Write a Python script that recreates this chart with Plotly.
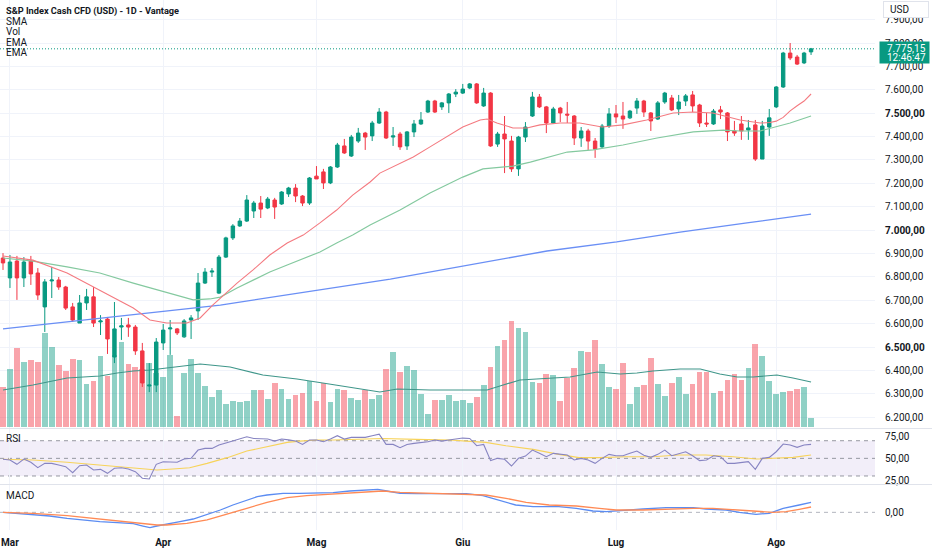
import plotly.graph_objects as go

# ---------------- data ----------------
month_idx = [1, 23, 45, 66, 88, 111]
month_labels = ["Mar", "Apr", "Mag", "Giu", "Lug", "Ago"]

opens = [6881,6796,6868,6796,6868,6817,6672,6783,6787,6757,
         6672,6603,6689,6715,6608,6620,6458,6586,6595,6586,
         6484,6334,6338,6518,6578,6578,6544,6616,6655,6774,
         6821,6731,6885,6967,7018,7039,7082,7116,7095,7129,
         7112,7155,7180,7146,7116,7231,7249,7202,7270,7360,
         7317,7381,7415,7403,7458,7505,7398,7411,7360,7420,
         7454,7505,7552,7527,7544,7582,7586,7608,7625,7531,
         7586,7368,7411,7381,7262,7398,7488,7569,7527,7458,
         7522,7496,7488,7394,7424,7381,7356,7445,7497,7488,
         7480,7522,7552,7501,7475,7548,7565,7518,7552,7578,
         7535,7458,7454,7514,7501,7424,7454,7428,7450,7304,
         7441,7527,7612,7757,7740,7715,7762]
highs = [6902,6894,6890,6885,6890,6838,6791,6843,6800,6762,
         6689,6723,6749,6757,6637,6629,6693,6625,6625,6595,
         6518,6432,6539,6599,6616,6582,6620,6637,6817,6838,
         6838,6894,6972,7026,7052,7150,7125,7146,7142,7138,
         7167,7185,7197,7150,7227,7274,7262,7274,7373,7390,
         7407,7437,7420,7467,7522,7510,7441,7420,7424,7471,
         7505,7557,7557,7548,7586,7603,7625,7629,7629,7608,
         7590,7420,7488,7403,7403,7462,7591,7582,7531,7527,
         7527,7548,7492,7441,7433,7394,7454,7522,7535,7548,
         7514,7565,7557,7505,7552,7591,7578,7578,7582,7595,
         7540,7501,7518,7531,7505,7467,7488,7471,7471,7467,
         7518,7616,7762,7800,7749,7762,7779]
lows = [6830,6753,6702,6757,6766,6702,6565,6710,6745,6659,
        6608,6603,6659,6586,6552,6471,6432,6531,6544,6467,
        6330,6308,6308,6488,6467,6552,6540,6535,6616,6770,
        6800,6727,6881,6958,7014,7035,7052,7052,7090,7048,
        7108,7142,7120,7103,7108,7219,7176,7197,7266,7326,
        7313,7373,7343,7381,7454,7390,7360,7343,7343,7398,
        7450,7501,7501,7514,7501,7569,7582,7603,7540,7527,
        7356,7356,7244,7249,7232,7377,7484,7522,7415,7454,
        7462,7458,7364,7356,7343,7309,7352,7437,7458,7433,
        7475,7497,7484,7424,7471,7540,7509,7492,7531,7505,
        7441,7441,7450,7475,7381,7403,7386,7386,7296,7304,
        7403,7522,7608,7727,7706,7710,7749]
closes = [6860,6864,6796,6864,6813,6723,6779,6787,6757,6667,
          6616,6689,6715,6603,6612,6535,6578,6591,6586,6484,
          6347,6338,6522,6573,6582,6561,6612,6625,6774,6821,
          6825,6885,6967,7018,7039,7129,7116,7090,7133,7099,
          7163,7180,7146,7116,7223,7219,7202,7270,7364,7330,
          7398,7415,7398,7458,7505,7394,7403,7356,7420,7454,
          7471,7552,7505,7544,7582,7590,7603,7625,7544,7586,
          7360,7411,7390,7262,7398,7441,7569,7527,7458,7518,
          7501,7492,7394,7424,7381,7347,7445,7497,7484,7475,
          7509,7552,7505,7467,7544,7586,7514,7548,7574,7531,
          7458,7454,7509,7505,7420,7415,7424,7437,7304,7445,
          7480,7612,7757,7736,7710,7757,7775.15]
volumes = [40,58,79,65,67,65,94,80,62,56,
           68,67,43,46,71,51,72,85,63,60,
           58,64,54,50,72,11,54,68,54,41,
           30,37,23,26,25,26,37,37,28,44,
           38,28,32,34,46,26,44,25,38,37,
           29,27,37,28,32,58,75,55,61,57,
           33,13,27,27,32,26,27,24,30,42,
           60,81,87,106,99,95,45,44,53,52,
           26,49,59,76,75,87,63,40,38,64,
           23,40,42,69,43,31,44,50,33,43,
           55,55,34,36,47,53,47,59,83,71,
           46,33,35,36,38,40,9]

vma_idx = [0,4.3,9.2,13.9,16.4,18.7,21.1,23.5,26.4,28.3,31.2,32.6,37.3,42.2,45.9,49.4,54.1,56.6,61.3,
           66.0,69.5,71.8,74.2,79.0,81.4,85.3,88.6,91.0,93.3,97.2,100.1,102.9,105.4,107.7,111.1,113.4,116.0]
vma_val = [37,42,49,51,54,56,57,59,61,63,61,60,52,48,44,40,35,38,37,
           37,37,42,47,49,50,55,53,54,56,58,58,53,50,50,52,49,45]

ema_fast_idx = [0,4.3,9.2,13.9,18.7,21.1,23.5,26.4,28.3,30.1,32.0,33.6,35.9,38.3,40.8,43.1,45.5,47.9,50.2,52.7,
                54.1,55.6,58.9,61.3,63.7,66.0,68.5,69.5,70.9,73.2,75.2,77.1,80.0,82.8,86.0,89.0,92.4,96.2,99.1,101.9,
                105.8,108.7,110.1,111.0,112.0,113.0,114.0,115.0,116.0]
ema_fast_val = [6890,6872,6817,6744,6667,6616,6603,6603,6625,6680,6732,6774,6830,6894,6945,6979,7031,7086,7150,7206,
                7244,7266,7313,7356,7398,7441,7471,7475,7458,7437,7437,7450,7458,7458,7441,7450,7471,7501,7505,7501,
                7471,7458,7460,7466,7482,7510,7532,7552,7582]

ema_slow_idx = [0,4.3,9.2,13.9,18.7,23.5,27.3,29.7,31.2,33.6,35.9,38.3,40.8,43.1,45.5,47.9,50.2,52.7,55.6,57.0,
                61.3,66.0,68.9,73.2,75.7,78.5,81.0,84.7,89.0,93.9,99.1,103.4,105.8,108.7,110.5,113.0,116.0]
ema_slow_val = [6881,6868,6843,6817,6774,6732,6702,6706,6714,6753,6787,6821,6851,6877,6907,6945,6979,7022,7065,7086,
                7159,7227,7262,7274,7291,7313,7334,7343,7364,7394,7420,7428,7424,7424,7437,7458,7488]

sma_idx = [0,16.8,31.2,55.6,66.0,78.1,88.1,97.2,106.8,116.0]
sma_val = [6578,6633,6680,6791,6847,6911,6950,6992,7031,7069]

rsi = [48.9,48.1,43.2,49.2,45.5,39.4,44.3,44.3,42.5,40.6,
       33.8,41.7,42.5,36.8,37.5,33.0,38.7,39.4,37.9,34.9,
       27.4,26.6,43.2,46.2,45.8,45.5,49.2,50.0,59.4,61.3,
       61.3,65.1,67.5,69.6,71.9,74.5,72.6,72.0,71.9,69.6,
       71.9,71.0,69.6,65.8,70.8,70.8,68.9,71.9,75.7,71.9,
       73.8,73.8,73.8,75.7,77.5,65.8,65.8,62.1,65.8,67.0,
       68.0,68.9,70.8,69.6,70.8,71.5,73.0,72.6,64.3,65.8,
       47.4,50.0,48.9,41.3,50.0,52.6,59.4,55.7,51.9,55.7,
       54.5,53.8,48.1,50.0,48.1,44.3,50.0,54.5,53.0,53.0,
       55.7,58.3,53.5,51.1,54.5,59.4,53.0,54.9,57.5,53.0,
       47.4,48.1,53.0,51.9,44.3,44.3,45.5,46.2,37.5,50.0,
       51.1,57.5,66.2,65.1,62.5,65.1,65.8]
rsi_ma_idx = [0,4.3,9.2,13.9,18.7,22.1,24.4,26.8,29.3,32.2,35.0,37.9,40.8,42.6,45.1,47.4,52.3,54.5,59.4,64.2,
              66.5,69.3,72.2,76.1,79.8,82.7,85.6,89.4,93.3,97.0,100.9,104.8,108.1,111.0,113.4,116.0]
rsi_ma_val = [48.9,48.1,45.5,42.5,38.7,36.8,37.9,39.4,44.3,50.8,58.3,63.2,68.1,69.6,70.8,70.8,71.9,72.6,71.5,70.8,
              69.5,68.1,64.3,60.2,54.5,50.8,50.8,51.9,51.9,53.8,53.8,51.9,49.2,50.0,51.1,53.8]

macd_idx = [0,2.0,4.3,6.7,9.2,11.5,13.9,16.4,18.7,20.1,21.1,22.1,23.5,25.4,27.3,29.3,31.2,33.0,35.0,36.5,
            37.9,40.2,42.6,45.1,47.4,49.8,52.3,53.8,55.1,57.0,59.4,66.5,68.9,71.2,73.6,76.1,79.8,82.3,84.7,86.6,
            89.4,91.9,95.2,99.1,100.9,103.8,105.7,108.1,110.0,112.0,114.3,116.0]
macd_val = [0,-5.2,-14,-19.2,-31.5,-40.2,-49,-54.2,-59.5,-71.8,-80.5,-71.8,-63,-49,-35,-10.5,12.2,38.5,64.8,82.2,
            91,99.8,99.8,99.8,103.2,112,117.2,120.8,112,99.8,98,98,87.5,64.8,38.5,29.8,29.8,21,7,3.5,
            12.2,17.5,24.5,24.5,17.5,12.2,0,-10.5,-5.2,21,38.5,52.5]
signal_idx = [0,4.3,9.2,13.9,18.7,22.1,23.5,26.4,29.3,32.2,35.0,37.9,40.8,43.6,46.5,49.8,52.3,54.5,57.0,61.7,
              66.5,69.3,72.2,75.1,78.4,82.3,85.6,88.0,91.9,95.2,99.1,101.9,104.8,107.7,110.5,112.4,114.3,116.0]
signal_val = [0,-5.2,-17.5,-36.8,-54.2,-66.5,-66.5,-57.8,-40.2,-10.5,21,52.5,77,87.5,94.5,103.2,108.5,112,105,99.8,
              98,91,73.5,52.5,38.5,33.2,21,12.2,12.2,17.5,21,21,15.8,7,0,3.5,15.8,28]

price_ticks = list(range(6200, 8000, 100))
bold_ticks = [6500, 7000, 7500]
last_price_text = "7.775,15"
last_time_text = "12:46:47"

# ---------------- figure ----------------
def it_fmt(v):
    s = f"{v:,.2f}".replace(",", "X").replace(".", ",").replace("X", ".")
    return s

idx = list(range(len(closes)))
up = [c >= o for o, c in zip(opens, closes)]

W, H = 932, 550
MR, MB = 57, 20
PW, PH = W - MR, H - MB

def ydom(top, bot):
    return [1 - bot / PH, 1 - top / PH]

def pyy(p):
    return 1 - p / PH

def pxx(p):
    return p / PW

GREEN = "#089981"
RED = "#f23645"
TXT = "#131722"
FONT = "Roboto"
GRID = "#f0f3fa"

fig = go.Figure()
fig.add_trace(go.Bar(x=idx, y=volumes, width=0.82,
                     marker=dict(color=["rgba(8,153,129,0.45)" if u else "rgba(242,54,69,0.45)" for u in up],
                                 line=dict(width=0)),
                     xaxis="x", yaxis="y"))
fig.add_trace(go.Scatter(x=vma_idx, y=vma_val, mode="lines", line=dict(color="#3f968a", width=1.2),
                         xaxis="x", yaxis="y"))
fig.add_trace(go.Scatter(x=sma_idx, y=sma_val, mode="lines", line=dict(color="#6a8ff5", width=1.3),
                         xaxis="x", yaxis="y2"))
fig.add_trace(go.Scatter(x=ema_slow_idx, y=ema_slow_val, mode="lines", line=dict(color="#84c99f", width=1.2),
                         xaxis="x", yaxis="y2"))
fig.add_trace(go.Scatter(x=ema_fast_idx, y=ema_fast_val, mode="lines", line=dict(color="#f47a80", width=1.1),
                         xaxis="x", yaxis="y2"))
fig.add_trace(go.Candlestick(x=idx, open=opens, high=highs, low=lows, close=closes,
                             increasing=dict(line=dict(color=GREEN, width=1), fillcolor=GREEN),
                             decreasing=dict(line=dict(color=RED, width=1), fillcolor=RED),
                             whiskerwidth=0, xaxis="x", yaxis="y2"))
fig.add_trace(go.Scatter(x=rsi_ma_idx, y=rsi_ma_val, mode="lines", line=dict(color="#f7d35a", width=1.1),
                         xaxis="x2", yaxis="y3"))
fig.add_trace(go.Scatter(x=idx, y=rsi, mode="lines", line=dict(color="#8784c2", width=1.1),
                         xaxis="x2", yaxis="y3"))
fig.add_trace(go.Scatter(x=macd_idx, y=macd_val, mode="lines", line=dict(color="#5b8cf2", width=1.3),
                         xaxis="x3", yaxis="y4"))
fig.add_trace(go.Scatter(x=signal_idx, y=signal_val, mode="lines", line=dict(color="#ff8a55", width=1.3),
                         xaxis="x3", yaxis="y4"))

xcommon = dict(range=[-0.43, 125.18], tickvals=month_idx, showgrid=True, gridcolor=GRID, gridwidth=1,
               zeroline=False, showline=False, ticks="", fixedrange=True)

shapes = []
shapes.append(dict(type="rect", xref="paper", x0=0, x1=1, yref="y3", y0=30, y1=70,
                   fillcolor="rgba(126,87,194,0.10)", line=dict(width=0), layer="below"))
for lv in (70, 50, 30):
    shapes.append(dict(type="line", xref="paper", x0=0, x1=1, yref="y3", y0=lv, y1=lv,
                       line=dict(color="#9598a1", width=1, dash="4px,4px"), layer="below"))
shapes.append(dict(type="line", xref="paper", x0=0, x1=1, yref="y4", y0=0, y1=0,
                   line=dict(color="#b2b5be", width=1, dash="4px,4px"), layer="below"))
shapes.append(dict(type="line", xref="paper", x0=0, x1=1, yref="y2", y0=closes[-1], y1=closes[-1],
                   line=dict(color=GREEN, width=1, dash="1px,2px")))
for sy in (428.5, 484.5):
    shapes.append(dict(type="line", xref="paper", x0=0, x1=W / PW, yref="paper", y0=pyy(sy), y1=pyy(sy),
                       line=dict(color="#e0e3eb", width=1)))

def ann(text, x, y, size=10, color=TXT, xanchor="left", **kw):
    d = dict(text=text, x=pxx(x), y=pyy(y), xref="paper", yref="paper", showarrow=False,
             xanchor=xanchor, yanchor="middle", borderpad=0,
             font=dict(family=FONT, size=size, color=color))
    d.update(kw)
    return d

annotations = [
    ann("<b>S&amp;P Index Cash CFD (USD) - 1D - Vantage</b>", 5, 10.7, size=9.2),
    ann("SMA", 5, 21.5), ann("Vol", 5, 32), ann("EMA", 5, 42.7), ann("EMA", 5, 53),
    ann("RSI", 5, 438), ann("MACD", 5, 495.7),
    # box of the last price (annotations are drawn above the axis labels)
    ann("&nbsp;", 904.5, 53, xanchor="center", bgcolor=GREEN, width=49, height=21),
    ann(last_price_text, 886, 48.3, color="white"),
    ann(last_time_text, 886, 58, color="white"),
    # currency button
    ann("&nbsp;", 906, 10, xanchor="center", bgcolor="white", bordercolor="#e0e3eb", borderwidth=1,
        width=44, height=15),
    ann("USD", 889, 10),
]

fig.update_layout(
    width=W, height=H, margin=dict(l=0, r=MR, t=0, b=MB, pad=0),
    paper_bgcolor="white", plot_bgcolor="white", showlegend=False,
    font=dict(family=FONT, size=10, color=TXT),
    xaxis=dict(**xcommon, domain=[0, 1], anchor="y", showticklabels=False, rangeslider=dict(visible=False)),
    xaxis2=dict(**xcommon, domain=[0, 1], anchor="y3", matches="x", showticklabels=False),
    xaxis3=dict(**xcommon, domain=[0, 1], anchor="y4", matches="x", showticklabels=True,
                ticktext=[f"<b>{m}</b>" for m in month_labels], ticklabelstandoff=5,
                tickfont=dict(family=FONT, size=10, color=TXT)),
    yaxis=dict(domain=ydom(0, 428), range=[-1, 427], visible=False, fixedrange=True),
    yaxis2=dict(overlaying="y", anchor="x", side="right", range=[6154.5, 7983.8],
                tickvals=price_ticks,
                ticktext=[f"<b>{it_fmt(v)}</b>" if v in bold_ticks else it_fmt(v) for v in price_ticks],
                showgrid=True, gridcolor=GRID, zeroline=False, ticks="", ticklabelstandoff=9,
                tickfont=dict(family=FONT, size=10, color=TXT), fixedrange=True),
    yaxis3=dict(domain=ydom(429, 484), anchor="x2", side="right", range=[20.9, 83.3],
                tickvals=[25, 50, 75], ticktext=[it_fmt(v) for v in (25, 50, 75)],
                showgrid=False, zeroline=False, ticks="", ticklabelstandoff=9,
                tickfont=dict(family=FONT, size=10, color=TXT), fixedrange=True),
    yaxis4=dict(domain=ydom(485, 530), anchor="x3", side="right", range=[-92.75, 143.5],
                tickvals=[0], ticktext=["0,00"], showgrid=False, zeroline=False, ticks="",
                ticklabelstandoff=9, tickfont=dict(family=FONT, size=10, color=TXT), fixedrange=True),
    shapes=shapes, annotations=annotations, bargap=0,
)

fig.write_html("out.html", config={"displayModeBar": False},
               post_script="document.body.style.margin='0px';")
